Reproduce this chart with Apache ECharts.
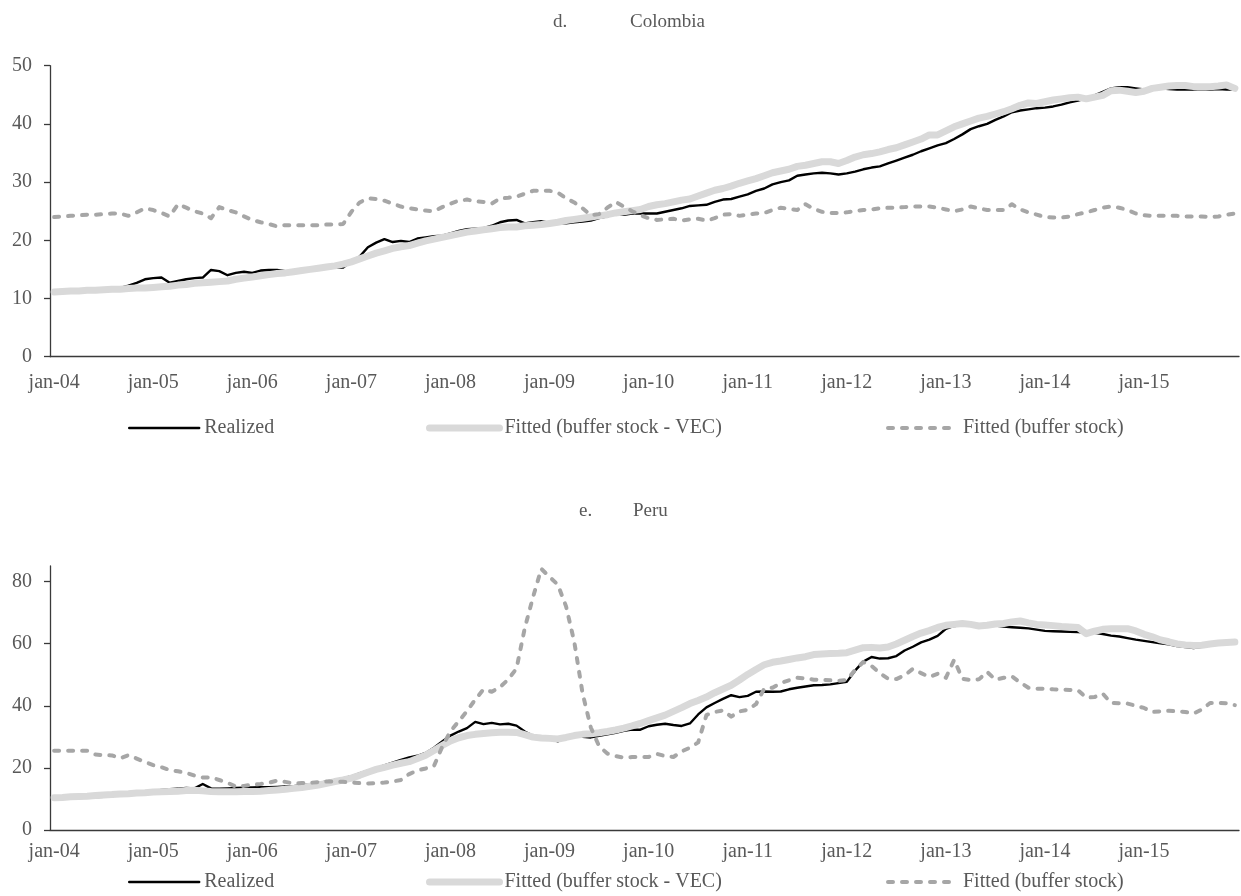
<!DOCTYPE html>
<html>
<head>
<meta charset="utf-8">
<title>Colombia / Peru</title>
<script src="https://cdn.jsdelivr.net/npm/echarts@6/dist/echarts.min.js"></script>
<style>
  html, body { margin: 0; padding: 0; background: #ffffff; }
  #chart { width: 1241px; height: 896px; }
</style>
</head>
<body>
<div id="chart"></div>
<script>
// Monthly observations, January 2004 to December 2015 (144 months)
const monthNames = ['jan','feb','mar','apr','may','jun','jul','aug','sep','oct','nov','dec'];
const years = ['04','05','06','07','08','09','10','11','12','13','14','15'];
const months = [];
years.forEach(y => monthNames.forEach(m => months.push(m + '-' + y)));

const seriesNames = ['Realized', 'Fitted (buffer stock - VEC)', 'Fitted (buffer stock)'];

// d. Colombia
const coRealized = [
  11.0,11.1,11.2,11.3,11.4,11.5,11.6,11.7,11.8,12.2,12.7,13.3,
  13.5,13.6,12.7,13.0,13.3,13.5,13.6,14.9,14.7,14.0,14.4,14.6,
  14.4,14.8,14.9,14.9,14.7,14.6,14.8,15.0,15.1,15.2,15.3,15.3,
  16.4,17.2,18.8,19.6,20.2,19.7,19.9,19.7,20.3,20.5,20.7,20.8,
  21.2,21.6,21.9,22.0,22.1,22.5,23.1,23.4,23.5,22.9,23.1,23.3,
  23.0,22.9,22.9,23.1,23.2,23.4,23.8,24.1,24.5,24.4,24.6,24.6,
  24.6,24.6,24.9,25.2,25.5,25.9,26.0,26.1,26.6,27.0,27.1,27.5,
  27.9,28.5,28.9,29.6,30.0,30.3,31.1,31.3,31.5,31.6,31.5,31.3,
  31.5,31.8,32.2,32.5,32.7,33.2,33.7,34.2,34.7,35.3,35.8,36.3,
  36.7,37.4,38.2,39.1,39.6,40.0,40.7,41.3,42.0,42.3,42.5,42.7,
  42.8,43.0,43.3,43.7,44.0,44.4,44.9,45.5,46.1,46.3,46.3,46.1,
  45.9,46.0,46.1,46.0,45.9,45.9,45.9,46.0,45.9,46.0,45.9,45.9
];
const coVec = [
  11.1,11.2,11.3,11.3,11.4,11.4,11.5,11.6,11.6,11.7,11.8,11.8,
  11.9,12.0,12.1,12.3,12.4,12.6,12.7,12.8,12.9,13.0,13.3,13.5,
  13.7,13.9,14.1,14.3,14.4,14.6,14.8,15.0,15.2,15.4,15.6,15.9,
  16.3,16.8,17.3,17.8,18.2,18.6,18.9,19.1,19.5,19.9,20.2,20.5,
  20.8,21.1,21.4,21.6,21.8,22.0,22.2,22.3,22.3,22.5,22.6,22.7,
  22.9,23.1,23.4,23.6,23.8,24.0,24.2,24.4,24.7,24.9,25.1,25.3,
  25.8,26.1,26.3,26.6,26.9,27.1,27.6,28.1,28.6,28.9,29.3,29.8,
  30.2,30.6,31.1,31.6,31.9,32.2,32.7,32.9,33.2,33.5,33.5,33.2,
  33.7,34.3,34.7,34.9,35.2,35.6,35.9,36.4,36.9,37.4,38.1,38.1,
  38.8,39.5,40.0,40.5,41.0,41.3,41.7,42.1,42.6,43.2,43.6,43.5,
  43.8,44.1,44.3,44.5,44.6,44.3,44.6,44.9,45.7,45.8,45.6,45.4,
  45.6,46.1,46.3,46.5,46.6,46.6,46.4,46.4,46.4,46.5,46.7,46.1
];
const coBuffer = [
  24.0,24.1,24.2,24.3,24.4,24.4,24.5,24.6,24.6,24.2,24.8,25.5,
  25.2,24.7,24.1,26.2,25.6,25.0,24.6,23.8,25.7,25.2,24.8,24.1,
  23.5,23.1,22.8,22.4,22.6,22.6,22.6,22.6,22.6,22.7,22.7,22.8,
  24.9,26.5,27.2,27.1,26.8,26.3,25.8,25.5,25.3,25.1,25.0,25.7,
  26.3,26.8,27.0,26.7,26.6,26.3,27.2,27.3,27.5,28.0,28.5,28.5,
  28.5,28.2,27.2,26.5,25.5,24.3,24.5,25.6,26.6,25.8,25.0,24.3,
  23.8,23.5,23.6,23.7,23.4,23.6,23.7,23.4,23.8,24.4,24.5,24.2,
  24.4,24.6,24.7,25.2,25.6,25.4,25.2,26.2,25.4,24.9,24.7,24.7,
  24.8,25.0,25.2,25.3,25.5,25.6,25.6,25.7,25.8,25.8,25.8,25.6,
  25.3,25.0,25.3,25.8,25.5,25.2,25.2,25.2,26.2,25.3,24.8,24.4,
  24.0,23.9,23.9,24.1,24.5,24.8,25.2,25.6,25.8,25.6,25.2,24.6,
  24.3,24.2,24.2,24.2,24.2,24.1,24.1,24.1,24.0,24.1,24.4,24.6
];

// e. Peru
const peRealized = [
  10.2,10.2,10.3,10.4,10.5,10.6,10.7,10.9,11.2,11.6,12.0,12.3,
  12.6,12.9,13.1,13.3,13.5,13.4,14.8,13.4,13.3,13.4,13.5,13.6,
  13.7,13.8,13.8,13.9,14.0,14.1,14.4,14.7,15.1,15.6,16.1,16.6,
  17.3,18.2,19.1,19.9,20.8,21.7,22.6,23.4,23.9,24.8,26.5,28.5,
  30.4,31.7,32.8,34.8,34.1,34.5,34.0,34.2,33.6,31.7,30.3,30.0,
  29.6,28.5,29.8,30.2,30.0,29.8,30.3,30.8,31.3,31.9,32.3,32.3,
  33.4,33.9,34.2,33.8,33.5,34.3,37.2,39.5,40.9,42.2,43.4,42.8,
  43.2,44.5,44.6,44.5,44.6,45.3,45.8,46.2,46.6,46.7,46.9,47.3,
  47.7,51.3,54.2,55.7,55.2,55.3,56.0,57.8,59.0,60.4,61.3,62.5,
  64.8,65.7,65.9,66.0,65.9,65.9,65.8,65.5,65.3,65.1,64.9,64.5,
  64.1,64.0,63.9,63.8,63.7,63.6,63.5,63.1,62.6,62.3,61.8,61.3,
  60.9,60.5,60.1,59.8,59.2,58.9,58.6,59.0,59.5,60.5,60.7,60.6
];
const peVec = [
  10.4,10.5,10.7,10.8,10.9,11.1,11.3,11.4,11.6,11.7,11.9,12.0,
  12.2,12.3,12.4,12.5,12.7,12.8,12.6,12.4,12.3,12.3,12.3,12.4,
  12.4,12.5,12.7,12.9,13.1,13.4,13.7,14.1,14.5,15.0,15.6,16.1,
  16.7,17.6,18.6,19.5,20.2,20.9,21.5,22.0,23.0,24.1,25.6,27.2,
  28.7,29.7,30.4,30.8,31.1,31.3,31.5,31.5,31.4,30.7,29.9,29.6,
  29.5,29.3,29.8,30.4,30.8,31.0,31.3,31.7,32.2,32.8,33.5,34.3,
  35.2,36.1,37.0,38.2,39.4,40.7,41.7,42.8,44.2,45.4,46.6,48.3,
  50.1,51.7,53.2,54.0,54.4,54.9,55.4,55.8,56.5,56.7,56.8,56.9,
  57.1,57.9,58.7,58.8,58.6,58.9,59.9,61.1,62.3,63.4,64.2,65.2,
  65.9,66.2,66.5,66.2,65.7,65.9,66.3,66.5,67.0,67.3,66.7,66.2,
  66.0,65.8,65.5,65.4,65.2,63.2,64.0,64.6,64.8,64.8,64.8,64.1,
  63.0,62.2,61.2,60.6,59.9,59.6,59.4,59.5,59.9,60.2,60.4,60.5
];
const peBuffer = [
  25.5,25.5,25.5,25.5,25.5,24.3,24.1,24.0,23.1,24.1,23.0,21.9,
  20.9,20.2,19.3,18.9,18.4,17.5,16.9,16.9,16.1,15.2,14.0,14.2,
  14.6,14.8,15.2,15.9,15.5,15.0,15.1,15.2,15.4,15.6,15.6,15.5,
  15.3,15.1,15.0,15.1,15.3,15.6,16.1,18.0,19.2,19.8,20.6,26.8,
  31.8,35.0,38.3,42.0,45.3,44.5,46.0,48.5,52.0,65.0,75.0,84.1,
  81.5,79.0,72.0,60.5,44.0,33.0,27.0,24.6,23.8,23.3,23.5,23.5,
  23.5,24.5,23.8,23.5,25.3,26.5,28.2,37.0,38.0,38.5,36.5,38.2,
  38.7,40.5,45.5,45.8,47.3,48.2,49.0,48.8,48.4,48.3,48.2,48.0,
  48.3,51.5,54.1,52.8,50.5,48.7,48.6,49.8,51.9,50.5,49.3,50.3,
  49.0,54.8,48.7,48.3,48.5,50.9,48.4,49.0,49.5,47.5,45.8,45.5,
  45.5,45.3,45.2,45.1,45.0,42.6,42.8,43.9,40.9,40.8,40.7,40.0,
  39.3,38.0,38.2,38.4,38.2,38.0,37.5,38.8,40.9,40.9,40.8,40.2
];

const coTicks = [0, 10, 20, 30, 40, 50];
const peTicks = [0, 20, 40, 60, 80];

const FONT = '"Liberation Serif", "DejaVu Serif", serif';
const TEXT_COLOR = '#595959';
const AXIS_COLOR = '#3a3a3a';
const LABEL_SIZE = 20;

const lineStyles = [
  { color: '#000000', width: 2.4, type: 'solid', cap: 'round', join: 'round' },
  { color: '#d9d9d9', width: 7, type: 'solid', cap: 'round', join: 'round' },
  { color: '#a6a6a6', width: 4, type: [5, 9], cap: 'round', join: 'round' }
];

function makeSeries(names, data, gridIdx) {
  return names.map((n, k) => ({
    name: n,
    type: 'line',
    xAxisIndex: gridIdx,
    yAxisIndex: gridIdx,
    data: data[k],
    symbol: 'none',
    smooth: false,
    silent: true,
    animation: false,
    z: 2 + k,
    lineStyle: lineStyles[k],
    itemStyle: { color: lineStyles[k].color }
  }));
}

function xAxis(gridIdx, labelMargin) {
  return {
    type: 'category',
    gridIndex: gridIdx,
    data: months,
    boundaryGap: true,
    axisLine: { lineStyle: { color: AXIS_COLOR, width: 1.3 } },
    axisTick: { show: false },
    axisLabel: {
      interval: 11,
      color: TEXT_COLOR,
      fontFamily: FONT,
      fontSize: LABEL_SIZE,
      margin: labelMargin
    },
    splitLine: { show: false }
  };
}

function yAxis(gridIdx, max, interval, ticks) {
  return {
    type: 'value',
    gridIndex: gridIdx,
    min: 0,
    max: max,
    interval: interval,
    axisLine: { show: true, lineStyle: { color: AXIS_COLOR, width: 1.3 } },
    axisTick: { show: true, length: 6, customValues: ticks, lineStyle: { color: AXIS_COLOR, width: 1.3 } },
    axisLabel: {
      customValues: ticks,
      color: TEXT_COLOR,
      fontFamily: FONT,
      fontSize: LABEL_SIZE,
      margin: 18
    },
    splitLine: { show: false }
  };
}

// one legend box per entry so each sits at its own spot under the plot
function legend(k, left, top) {
  const ls = lineStyles[k];
  return {
    data: [seriesNames[k]],
    left: left,
    top: top,
    padding: 0,
    orient: 'horizontal',
    itemWidth: 70,
    itemHeight: 14,
    selectedMode: false,
    itemStyle: { opacity: 0 },
    lineStyle: { color: ls.color, width: ls.width, type: ls.type, cap: ls.cap },
    textStyle: { color: TEXT_COLOR, fontFamily: FONT, fontSize: LABEL_SIZE }
  };
}

const titleStyle = { color: TEXT_COLOR, fontFamily: FONT, fontSize: 19, fontWeight: 'normal' };

const chart = echarts.init(document.getElementById('chart'), null, { renderer: 'canvas' });
chart.setOption({
  backgroundColor: '#ffffff',
  animation: false,
  title: [
    { text: 'd.', left: 553, top: 13, padding: 0, textStyle: titleStyle },
    { text: 'Colombia', left: 630, top: 13, padding: 0, textStyle: titleStyle },
    { text: 'e.', left: 579, top: 502, padding: 0, textStyle: titleStyle },
    { text: 'Peru', left: 633, top: 502, padding: 0, textStyle: titleStyle }
  ],
  legend: [
    legend(0, 128, 418),
    legend(1, 426, 418),
    legend(2, 886, 418),
    legend(0, 128, 872),
    legend(1, 426, 872),
    legend(2, 886, 872)
  ],
  grid: [
    { left: 50, right: 2, top: 65.7, height: 291 },
    { left: 50, right: 2, top: 566, height: 264 }
  ],
  xAxis: [xAxis(0, 16), xAxis(1, 12)],
  yAxis: [yAxis(0, 50, 10, coTicks), yAxis(1, 85, 20, peTicks)],
  series: [
    ...makeSeries(seriesNames, [coRealized, coVec, coBuffer], 0),
    ...makeSeries(seriesNames, [peRealized, peVec, peBuffer], 1)
  ]
});
</script>
</body>
</html>
